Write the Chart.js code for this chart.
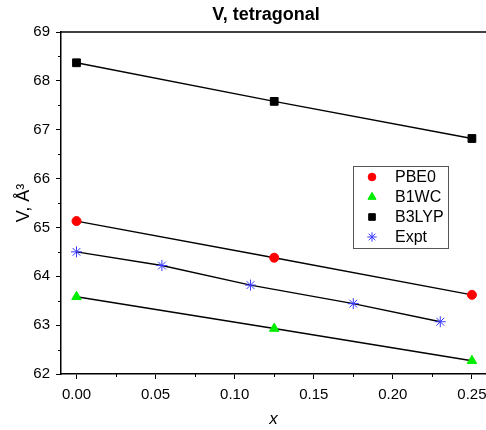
<!DOCTYPE html>
<html>
<head>
<meta charset="utf-8">
<script src="https://cdn.jsdelivr.net/npm/chart.js@4/dist/chart.umd.min.js"></script>
<style>
  html, body { margin: 0; padding: 0; background: #fff; overflow: hidden; }
  #wrap { width: 486px; height: 430px; }
  canvas { display: block; }
</style>
</head>
<body>
<div id="wrap"><canvas id="myChart" width="486" height="430"></canvas></div>
<script>
// data
const seriesNames = ['PBE0', 'B1WC', 'B3LYP', 'Expt'];
const calcX = [0, 0.125, 0.25];
const pbe0V = [65.13, 64.38, 63.62];
const b1wcV = [63.58, 62.93, 62.27];
const b3lypV = [68.37, 67.58, 66.82];
const exptX = [0, 0.054, 0.11, 0.175, 0.23];
const exptV = [64.50, 64.22, 63.82, 63.44, 63.07];

const xTickValues = [0, 0.05, 0.10, 0.15, 0.20, 0.25];
const xMinorValues = [0.025, 0.075, 0.125, 0.175, 0.225];
const yTickValues = [62, 63, 64, 65, 66, 67, 68, 69];
const yMinorValues = [62.5, 63.5, 64.5, 65.5, 66.5, 67.5, 68.5];

const FONT = "'Liberation Sans', Arial, sans-serif";

const toPoints = (xs, ys) => xs.map((x, i) => ({ x: x, y: ys[i] }));

const styles = [
    { color: '#ff0000', pointStyle: 'circle', radius: 4.5 },
    { color: '#00ee00', pointStyle: 'triangle', radius: 5.5 },
    { color: '#000000', pointStyle: 'rect', radius: 5.5 },
    { color: '#3a3aff', pointStyle: 'star', radius: 5.5 }
];
const seriesData = [
    toPoints(calcX, pbe0V),
    toPoints(calcX, b1wcV),
    toPoints(calcX, b3lypV),
    toPoints(exptX, exptV)
];

const datasets = seriesNames.map((name, i) => ({
    label: name,
    data: seriesData[i],
    showLine: true,
    borderColor: '#000',
    borderWidth: 1.4,
    pointStyle: styles[i].pointStyle,
    pointRadius: styles[i].radius,
    pointBackgroundColor: styles[i].color,
    pointBorderColor: styles[i].color,
    pointBorderWidth: 1
}));

const noPad = s => { s.paddingLeft = 0; s.paddingRight = 0; s.paddingTop = 0; s.paddingBottom = 0; };

// title, top frame line, minor ticks and the inset legend
const decorPlugin = {
    id: 'decor',
    afterDraw(chart) {
        const ctx = chart.ctx;
        const area = chart.chartArea;
        const xs = chart.scales.x;
        const ys = chart.scales.y;
        ctx.save();

        ctx.strokeStyle = '#000';
        ctx.lineWidth = 1.5;
        ctx.beginPath();
        ctx.moveTo(area.left, area.top);
        ctx.lineTo(area.right, area.top);
        ctx.stroke();

        ctx.lineWidth = 1;
        ctx.beginPath();
        xMinorValues.forEach(v => {
            const px = Math.round(xs.getPixelForValue(v)) + 0.5;
            ctx.moveTo(px, area.bottom);
            ctx.lineTo(px, area.bottom + 3);
        });
        yMinorValues.forEach(v => {
            const py = Math.round(ys.getPixelForValue(v)) + 0.5;
            ctx.moveTo(area.left, py);
            ctx.lineTo(area.left - 3, py);
        });
        ctx.stroke();

        ctx.fillStyle = '#000';
        ctx.font = 'bold 18px ' + FONT;
        ctx.textAlign = 'center';
        ctx.textBaseline = 'middle';
        ctx.fillText('V, tetragonal', 266, 15);

        // legend box
        const bx = 353.5, by = 166.5, bw = 95, bh = 82;
        ctx.fillStyle = '#fff';
        ctx.fillRect(bx, by, bw, bh);
        ctx.strokeStyle = '#555';
        ctx.lineWidth = 1;
        ctx.strokeRect(bx, by, bw, bh);
        ctx.font = '16px ' + FONT;
        ctx.textAlign = 'left';
        seriesNames.forEach((name, i) => {
            const cy = 177 + i * 20;
            ctx.fillStyle = styles[i].color;
            ctx.strokeStyle = styles[i].color;
            ctx.lineWidth = 1;
            const r = styles[i].radius * 0.85;
            if (Chart.helpers && Chart.helpers.drawPoint) {
                Chart.helpers.drawPoint(ctx, { pointStyle: styles[i].pointStyle, radius: r, rotation: 0, borderWidth: 1 }, 372, cy);
            } else {
                ctx.beginPath();
                ctx.arc(372, cy, r, 0, Math.PI * 2);
                ctx.fill();
            }
            ctx.fillStyle = '#000';
            ctx.fillText(name, 395, cy + 1);
        });
        ctx.restore();
    }
};

new Chart(document.getElementById('myChart').getContext('2d'), {
    type: 'scatter',
    data: { datasets: datasets },
    options: {
        responsive: false,
        animation: false,
        devicePixelRatio: 1,
        layout: { autoPadding: false, padding: { top: 32, right: 0, left: 0, bottom: 0 } },
        plugins: {
            legend: { display: false },
            title: { display: false },
            tooltip: { enabled: false }
        },
        scales: {
            x: {
                type: 'linear',
                min: -0.0098,
                max: 0.2589,
                afterBuildTicks: s => { s.ticks = xTickValues.map(v => ({ value: v })); },
                afterFit: s => { s.height = 56; noPad(s); },
                border: { display: true, color: '#000', width: 1.5 },
                grid: { drawOnChartArea: false, drawTicks: true, tickLength: 5, color: '#000', lineWidth: 1 },
                ticks: {
                    color: '#000',
                    padding: 7,
                    font: { family: FONT, size: 15 },
                    callback: v => Number(v).toFixed(2)
                },
                title: {
                    display: true,
                    text: 'x',
                    color: '#000',
                    font: { family: FONT, size: 17, style: 'italic' },
                    padding: { top: 0, bottom: 1 }
                }
            },
            y: {
                type: 'linear',
                min: 62,
                max: 69,
                afterBuildTicks: s => { s.ticks = yTickValues.map(v => ({ value: v })); },
                afterFit: s => { s.width = 61; noPad(s); },
                border: { display: true, color: '#000', width: 1.5 },
                grid: { drawOnChartArea: false, drawTicks: true, tickLength: 5, color: '#000', lineWidth: 1 },
                ticks: {
                    color: '#000',
                    padding: 6,
                    font: { family: FONT, size: 15 },
                    callback: v => String(v)
                },
                title: {
                    display: true,
                    text: 'V, Å³',
                    color: '#000',
                    font: { family: FONT, size: 18 },
                    padding: { top: 13, bottom: 0 }
                }
            }
        }
    },
    plugins: [decorPlugin]
});
</script>
</body>
</html>
